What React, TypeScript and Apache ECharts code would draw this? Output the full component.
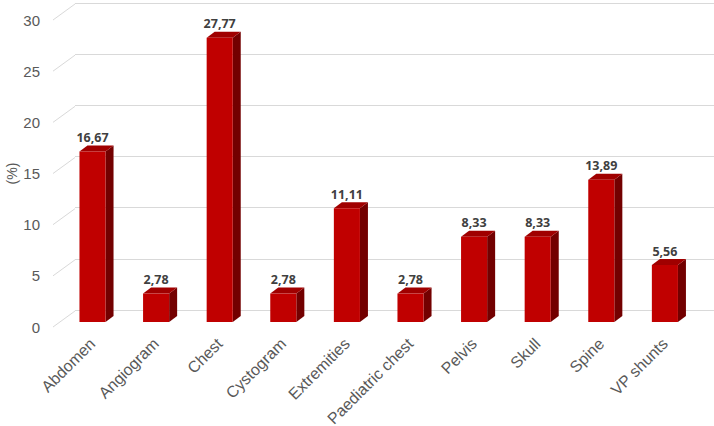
import React, { useEffect, useRef } from "react";
import * as echarts from "echarts";

const categories = [
  "Abdomen",
  "Angiogram",
  "Chest",
  "Cystogram",
  "Extremities",
  "Paediatric chest",
  "Pelvis",
  "Skull",
  "Spine",
  "VP shunts",
];
const values = [16.67, 2.78, 27.77, 2.78, 11.11, 2.78, 8.33, 8.33, 13.89, 5.56];
const yTicks = [0, 5, 10, 15, 20, 25, 30];

const FRONT = "#C00000";
const TOP = "#A00000";
const SIDE = "#730000";
const GRID = "#D9D9D9";
const DEPTH_X = 8;
const DEPTH_Y = 6;
const WALL_X = 22;
const WALL_Y = 16;

export default function App() {
  const ref = useRef<HTMLDivElement>(null);
  useEffect(() => {
    if (!ref.current) return;
    const chart = echarts.init(ref.current, null, { renderer: "svg" });
    const fmt = (v: number) => v.toFixed(2).replace(".", ",");
    chart.setOption({
      animation: false,
      backgroundColor: "#ffffff",
      grid: [
        { left: 60.7, right: 17.3, top: 15, bottom: 104, containLabel: false, outerBoundsMode: "none" },
        { left: 75, right: 0, top: 3, bottom: 116, containLabel: false, outerBoundsMode: "none" },
        { left: 53, right: 0, top: 20, bottom: 99, containLabel: false, outerBoundsMode: "none" },
      ],
      xAxis: [
        {
          type: "category",
          gridIndex: 0,
          data: categories,
          axisLine: { show: false },
          axisTick: { show: false },
          axisLabel: {
            rotate: 45,
            margin: 19,
            color: "#595959",
            fontSize: 16,
            fontFamily: "Liberation Sans, Arial, sans-serif",
            interval: 0,
          },
        },
        { type: "category", gridIndex: 1, data: categories, show: false },
        { type: "value", gridIndex: 2, min: 0, max: 1, show: false },
      ],
      yAxis: [
        {
          type: "value",
          gridIndex: 0,
          min: 0,
          max: 30,
          interval: 5,
          show: false,
          splitLine: { show: false },
        },
        {
          type: "value",
          gridIndex: 1,
          min: 0,
          max: 30,
          interval: 5,
          axisLine: { show: false },
          axisTick: { show: false },
          axisLabel: { show: false },
          splitLine: { show: true, lineStyle: { color: GRID, width: 1 } },
        },
        {
          type: "value",
          gridIndex: 2,
          min: 0,
          max: 30,
          interval: 5,
          axisLine: { show: false },
          axisTick: { show: false },
          splitLine: { show: false },
          axisLabel: {
            margin: 13,
            color: "#595959",
            fontSize: 15,
            fontFamily: "Liberation Sans, Arial, sans-serif",
          },
          name: "(%)",
          nameLocation: "middle",
          nameGap: 34,
          nameMoveOverlap: false,
          nameRotate: 90,
          nameTextStyle: {
            color: "#595959",
            fontSize: 14,
            fontFamily: "Liberation Sans, Arial, sans-serif",
          },
        },
      ],
      series: [
        {
          type: "custom",
          xAxisIndex: 2,
          yAxisIndex: 2,
          data: yTicks.map((t) => [0, t]),
          silent: true,
          z: 1,
          renderItem: (_params: any, api: any) => {
            const p = api.coord([0, api.value(1)]);
            return {
              type: "line",
              shape: { x1: p[0], y1: p[1], x2: p[0] + WALL_X, y2: p[1] - WALL_Y },
              style: { stroke: GRID, lineWidth: 1 },
            };
          },
        },
        {
          type: "custom",
          xAxisIndex: 0,
          yAxisIndex: 0,
          data: values.map((v, i) => [i, v]),
          z: 5,
          renderItem: (_params: any, api: any) => {
            const i = api.value(0);
            const v = api.value(1);
            const top = api.coord([i, v]);
            const bot = api.coord([i, 0]);
            const bw = api.size([1, 0])[0] * 0.41;
            const x0 = top[0] - bw / 2;
            const x1 = x0 + bw;
            const yt = top[1];
            const yb = bot[1];
            return {
              type: "group",
              children: [
                {
                  type: "polygon",
                  shape: {
                    points: [
                      [x1, yt],
                      [x1 + DEPTH_X, yt - DEPTH_Y],
                      [x1 + DEPTH_X, yb - DEPTH_Y],
                      [x1, yb],
                    ],
                  },
                  style: { fill: SIDE },
                },
                {
                  type: "polygon",
                  shape: {
                    points: [
                      [x0, yt],
                      [x0 + DEPTH_X, yt - DEPTH_Y],
                      [x1 + DEPTH_X, yt - DEPTH_Y],
                      [x1, yt],
                    ],
                  },
                  style: { fill: TOP },
                },
                {
                  type: "rect",
                  shape: { x: x0, y: yt, width: bw, height: yb - yt },
                  style: { fill: FRONT },
                },
                {
                  type: "text",
                  style: {
                    text: fmt(v),
                    x: top[0],
                    y: yt - 14,
                    align: "center",
                    verticalAlign: "middle",
                    fill: "#404040",
                    font: "bold 12.5px 'Open Sans', sans-serif",
                  },
                },
              ],
            };
          },
        },
      ],
    });
    return () => chart.dispose();
  }, []);
  return (
    <div
      ref={ref}
      style={{ position: "fixed", left: 0, top: 0, width: 714, height: 426 }}
    />
  );
}
